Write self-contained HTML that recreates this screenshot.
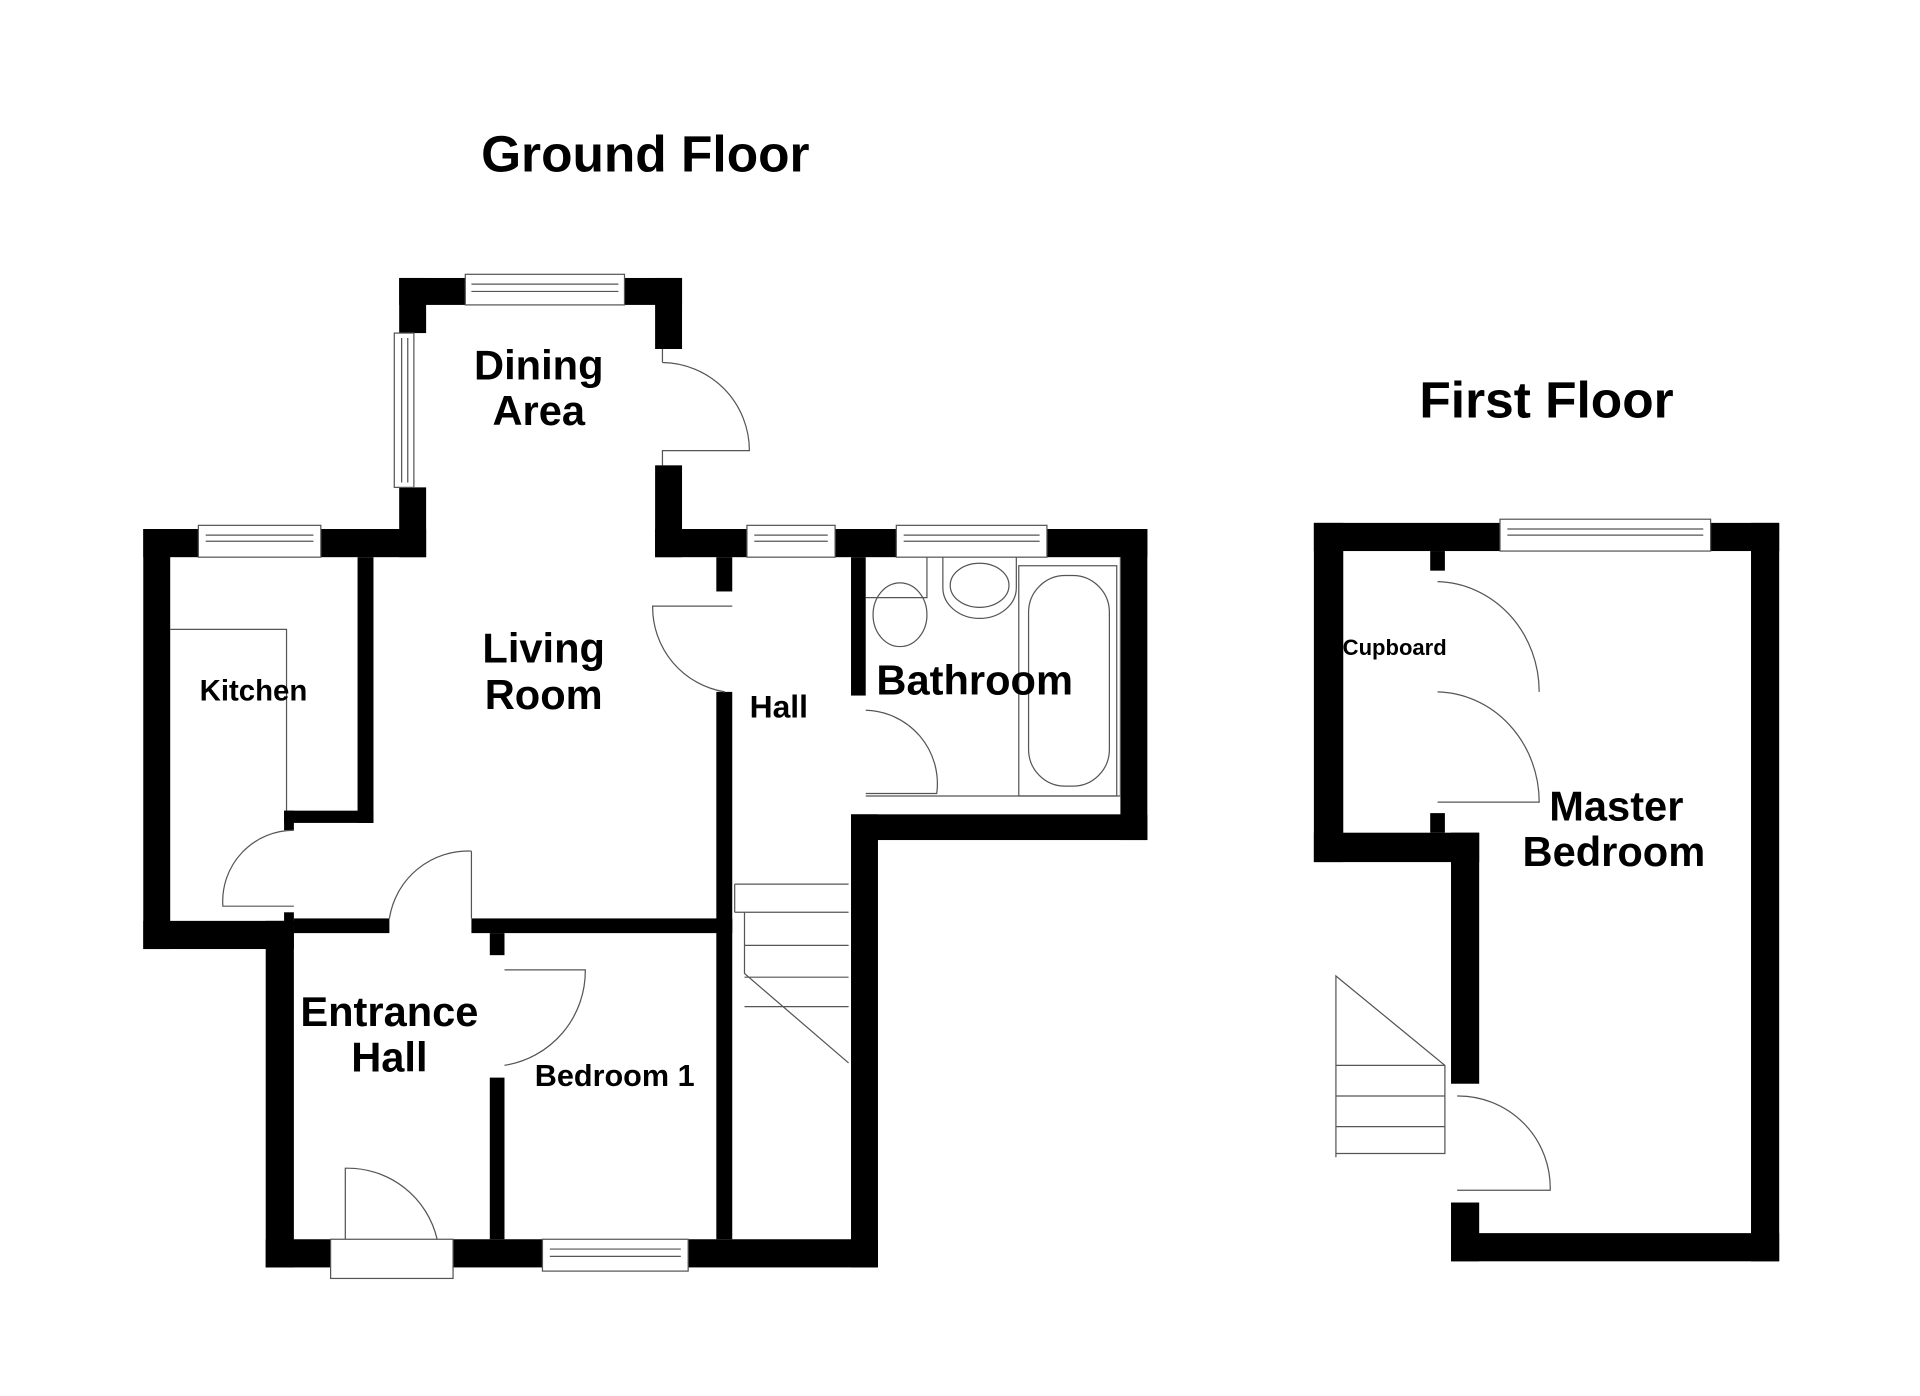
<!DOCTYPE html>
<html><head><meta charset="utf-8"><style>html,body{margin:0;padding:0;background:#fff}svg{display:block}</style></head>
<body>
<svg width="1920" height="1396" viewBox="0 0 1568 1140" preserveAspectRatio="none" xmlns="http://www.w3.org/2000/svg">
<rect width="1568" height="1140" fill="#fff"/>
<g fill="#000">
<rect x="326" y="227" width="54" height="22"/>
<rect x="510" y="227" width="47" height="22"/>
<rect x="326" y="227" width="22" height="45"/>
<rect x="326" y="398" width="22" height="57"/>
<rect x="535" y="227" width="22" height="58"/>
<rect x="535" y="380" width="22" height="75"/>
<rect x="117" y="432" width="45" height="23"/>
<rect x="262" y="432" width="86" height="23"/>
<rect x="535" y="432" width="75" height="23"/>
<rect x="682" y="432" width="50" height="23"/>
<rect x="855" y="432" width="82" height="23"/>
<rect x="117" y="432" width="22" height="343"/>
<rect x="117" y="752" width="123" height="23"/>
<rect x="292" y="455" width="13" height="217"/>
<rect x="232" y="662" width="73" height="10"/>
<rect x="232" y="662" width="8" height="16"/>
<rect x="232" y="745" width="8" height="10"/>
<rect x="240" y="750" width="78" height="12"/>
<rect x="385" y="750" width="213" height="12"/>
<rect x="585" y="455" width="13" height="28"/>
<rect x="585" y="565" width="13" height="447"/>
<rect x="695" y="455" width="12" height="113"/>
<rect x="915" y="432" width="22" height="254"/>
<rect x="695" y="665" width="242" height="21"/>
<rect x="695" y="665" width="22" height="370"/>
<rect x="217" y="752" width="23" height="283"/>
<rect x="217" y="1012" width="53" height="23"/>
<rect x="370" y="1012" width="73" height="23"/>
<rect x="562" y="1012" width="155" height="23"/>
<rect x="400" y="762" width="12" height="18"/>
<rect x="400" y="880" width="12" height="132"/>
<rect x="1073" y="427" width="152" height="23"/>
<rect x="1397" y="427" width="56" height="23"/>
<rect x="1073" y="427" width="24" height="277"/>
<rect x="1073" y="680" width="135" height="24"/>
<rect x="1168" y="450" width="12" height="16"/>
<rect x="1168" y="664" width="12" height="16"/>
<rect x="1185" y="680" width="23" height="205"/>
<rect x="1430" y="427" width="23" height="603"/>
<rect x="1185" y="1007" width="268" height="23"/>
<rect x="1185" y="982" width="23" height="48"/>
</g>
<g fill="none" stroke="#555" stroke-width="1">
<rect x="380" y="224" width="130" height="25"/><line x1="385" y1="232" x2="505" y2="232"/><line x1="385" y1="238" x2="505" y2="238"/>
<rect x="322" y="272" width="16" height="126"/><line x1="328" y1="276" x2="328" y2="394"/><line x1="333" y1="276" x2="333" y2="394"/>
<rect x="162" y="429" width="100" height="26"/><line x1="168" y1="437" x2="256" y2="437"/><line x1="168" y1="442" x2="256" y2="442"/>
<rect x="610" y="429" width="72" height="26"/><line x1="616" y1="437" x2="676" y2="437"/><line x1="616" y1="442" x2="676" y2="442"/>
<rect x="732" y="429" width="123" height="26"/><line x1="738" y1="437" x2="849" y2="437"/><line x1="738" y1="442" x2="849" y2="442"/>
<rect x="443" y="1012" width="119" height="26"/><line x1="449" y1="1020" x2="556" y2="1020"/><line x1="449" y1="1026" x2="556" y2="1026"/>
<rect x="270" y="1012" width="100" height="32"/>
<rect x="1225" y="424" width="172" height="26"/><line x1="1231" y1="432" x2="1391" y2="432"/><line x1="1231" y1="437" x2="1391" y2="437"/>
<path d="M541 285 V296 M541 296 A72 72 0 0 1 612 368 H541 V380"/>
<path d="M240 678 A58 58 0 0 0 182 740 H240"/>
<path d="M385 695 V750 M385 695 A65 65 0 0 0 318 750"/>
<path d="M412 792 H478 A78 78 0 0 1 412 870"/>
<path d="M598 495 H533 A70 70 0 0 0 592 565"/>
<path d="M707 580 A60 60 0 0 1 765 648 H707"/>
<path d="M282 1012 V954 A75 75 0 0 1 357 1012"/>
<path d="M1174 475 A85 90 0 0 1 1257 565"/>
<path d="M1174 565 A85 90 0 0 1 1257 655 H1174"/>
<path d="M1190 895 A75 75 0 0 1 1266 972 H1190"/>
<path d="M139 514 H234 V662"/>
<path d="M707 488 H757 V455 M707 650 H915 V455"/>
<ellipse cx="735" cy="502" rx="22" ry="26"/>
<path d="M770 455 V480 A30 25 0 0 0 830 480 V455"/>
<ellipse cx="800" cy="478" rx="24" ry="18"/>
<rect x="832" y="462" width="80" height="188"/>
<rect x="840" y="470" width="66" height="172" rx="30"/>
<path d="M600 722 H693 M600 745 H693 M608 772 H693 M608 798 H693 M608 822 H693 M608 745 V795 L693 868 M600 722 V745"/>
<path d="M1091 797 L1180 870 V942 H1091 Z M1091 870 H1180 M1091 895 H1180 M1091 920 H1180 M1091 797 V945"/>
</g>
<g font-family="Liberation Sans, sans-serif" font-weight="bold" fill="#000" text-anchor="middle">
<text x="527" y="140" font-size="42">Ground Floor</text>
<text x="1263" y="341" font-size="42">First Floor</text>
<text x="440" y="310" font-size="34">Dining</text>
<text x="440" y="347" font-size="34">Area</text>
<text x="444" y="541" font-size="34">Living</text>
<text x="444" y="579" font-size="34">Room</text>
<text x="207" y="572" font-size="24">Kitchen</text>
<text x="636" y="586" font-size="26">Hall</text>
<text x="796" y="567" font-size="34">Bathroom</text>
<text x="318" y="838" font-size="34">Entrance</text>
<text x="318" y="875" font-size="34">Hall</text>
<text x="502" y="887" font-size="25">Bedroom 1</text>
<text x="1139" y="535" font-size="18">Cupboard</text>
<text x="1320" y="670" font-size="34">Master</text>
<text x="1318" y="707" font-size="34">Bedroom</text>
</g>
</svg>
</body></html>
